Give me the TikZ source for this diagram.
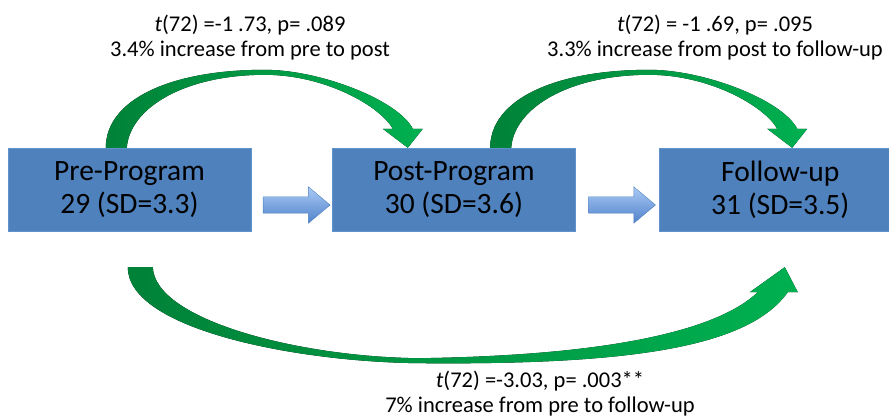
\documentclass[tikz,border=0pt]{standalone}
\usepackage{fontspec}
\setmainfont{Carlito}
\usetikzlibrary{positioning,calc,shapes.arrows}

\definecolor{boxblue}{RGB}{79,129,189}
\definecolor{boxedge}{RGB}{96,146,206}
\definecolor{arrowtop}{RGB}{170,202,246}
\definecolor{arrowbot}{RGB}{80,130,202}
\definecolor{arcdark}{RGB}{0,130,56}
\definecolor{arcbright}{RGB}{0,176,80}

\tikzset{
  box/.style={rectangle, fill=boxblue, draw=boxedge, minimum width=243pt,
    minimum height=83pt, inner sep=0pt, align=center,
    font=\fontsize{29.5}{33}\selectfont},
  statlabel/.style={align=center, inner sep=0pt, font=\fontsize{22.5}{25}\selectfont},
  blockarr/.style={single arrow, draw=boxblue, top color=arrowtop,
    bottom color=arrowbot, minimum height=67pt, inner xsep=0pt, inner ysep=8pt,
    single arrow head extend=10pt, single arrow tip angle=80,
    single arrow head indent=0pt},
  greenarc/.style={left color=arcdark, right color=arcbright}
}

% curved arrow over the top, from a point on a box to the next box
\newcommand{\toparc}[1]{%
  \fill[greenarc, shift={(#1)}] (0,0) .. controls (0,-48) and (64,-78) .. (159,-78)
    .. controls (214,-78) and (292,-48) .. (307,-19)
    -- (317,-19) -- (302,0) -- (277,-19) -- (287,-19)
    .. controls (274,-42) and (219,-73) .. (159,-73)
    .. controls (79,-73) and (24,-40) .. (21,0) -- cycle;}

\begin{document}
\begin{tikzpicture}[x=1pt,y=-1pt]
\useasboundingbox (0,0) rectangle (889,419);
\clip (0,0) rectangle (889,419);

\node[box] (pre) at (129.5,189.5) {Pre-Program\\29 (SD=3.3)};
\node[box, right=81pt of pre] (post) {Post-Program\\30 (SD=3.6)};
\node[box, right=83pt of post] (follow) {Follow-up\\31 (SD=3.5)};

\node[blockarr, yshift=-15.5pt] (prearrow) at ($(pre.east)!.5!(post.west)$) {};
\node[blockarr, yshift=-15.5pt] (postarrow) at ($(post.east)!.5!(follow.west)$) {};

\toparc{[xshift=98pt]pre.north west}
\toparc{[xshift=158pt]post.north west}

% long arrow underneath
\fill[greenarc, shift={([shift={(120pt,-36pt)}]pre.south west)}]
  (0,0) .. controls (0,63) and (172,95) .. (292,96)
  .. controls (512,98) and (622,78) .. (660,25)
  -- (670,25) -- (657,0) -- (622,25) -- (630,25)
  .. controls (592,61) and (492,88) .. (292,91)
  .. controls (172,90) and (27,53) .. (25,0) -- cycle;

\node[statlabel] (prepost) at (250,38)
  {\textit{t}(72) =-1 .73, p= .089\\3.4\% increase from pre to post};
\node[statlabel] (postfollow) at (715,38)
  {\textit{t}(72) = -1 .69, p= .095\\3.3\% increase from post to follow-up};
\node[statlabel] (prefollow) at (540,394)
  {\textit{t}(72) =-3.03, p= .003**\\7\% increase from pre to follow-up};
\end{tikzpicture}
\end{document}
